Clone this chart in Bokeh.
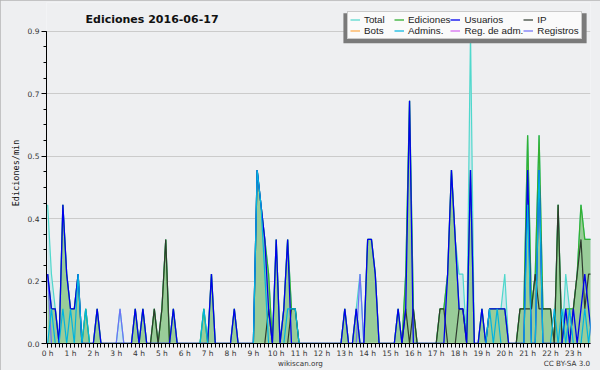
from bokeh.plotting import figure
from bokeh.models import (FixedTicker, Legend, LegendItem, ColumnDataSource, Range1d,
                          Label, BoxAnnotation, LinearAxis)
from bokeh.embed import file_html
from bokeh.resources import INLINE

TITLE = "Ediciones  2016-06-17"
FOOTER_TEXTS = ["wikiscan.org", "CC BY-SA 3.0"]
HOURS = list(range(24))
HOUR_LABELS = [f"{h} h" for h in HOURS]
Y_TICKS = [0, 0.18, 0.36, 0.54, 0.72, 0.9]
Y_LABELS = ["0.0", "0.2", "0.4", "0.5", "0.7", "0.9"]

# Counts per 10-minute slot (144 slots, one row = 2 hours); plotted as edits/min (count / 10)
TOTAL = [4, 2, 1, 0, 4, 2, 1, 1, 2, 0, 1, 0,
         0, 1, 0, 0, 0, 0, 0, 1, 0, 0, 0, 1,
         0, 1, 0, 0, 1, 0, 1, 3, 0, 1, 0, 0,
         0, 0, 0, 0, 0, 1, 0, 2, 0, 0, 0, 0,
         0, 1, 0, 0, 0, 0, 0, 5, 4, 3, 2, 0,
         3, 0, 1, 3, 1, 1, 0, 0, 0, 0, 0, 0,
         0, 0, 0, 0, 0, 0, 1, 0, 0, 1, 2, 0,
         3, 3, 2, 0, 0, 0, 0, 0, 1, 0, 2, 7,
         1, 0, 0, 0, 0, 0, 0, 1, 1, 2, 5, 3,
         2, 2, 0, 9, 0, 0, 1, 0, 1, 1, 1, 1,
         2, 0, 0, 0, 1, 1, 6, 1, 2, 6, 1, 1,
         1, 0, 4, 0, 2, 1, 1, 2, 4, 3, 3, 3]
EDICIONES = [2, 1, 1, 0, 4, 2, 1, 1, 2, 0, 1, 0,
             0, 1, 0, 0, 0, 0, 0, 0, 0, 0, 0, 1,
             0, 1, 0, 0, 1, 0, 1, 3, 0, 1, 0, 0,
             0, 0, 0, 0, 0, 1, 0, 2, 0, 0, 0, 0,
             0, 1, 0, 0, 0, 0, 0, 5, 4, 3, 2, 0,
             3, 0, 1, 3, 1, 1, 0, 0, 0, 0, 0, 0,
             0, 0, 0, 0, 0, 0, 1, 0, 0, 1, 0, 0,
             3, 3, 2, 0, 0, 0, 0, 0, 1, 0, 2, 7,
             1, 0, 0, 0, 0, 0, 0, 1, 1, 2, 5, 3,
             1, 1, 0, 5, 0, 0, 1, 0, 1, 1, 1, 1,
             1, 0, 0, 0, 1, 1, 6, 1, 2, 6, 1, 1,
             1, 0, 4, 0, 1, 1, 1, 2, 4, 3, 3, 3]
USUARIOS = [2, 1, 1, 0, 4, 2, 1, 1, 2, 0, 0, 0,
            0, 1, 0, 0, 0, 0, 0, 0, 0, 0, 0, 1,
            0, 1, 0, 0, 0, 0, 0, 0, 0, 1, 0, 0,
            0, 0, 0, 0, 0, 0, 0, 2, 0, 0, 0, 0,
            0, 1, 0, 0, 0, 0, 0, 5, 4, 3, 1, 0,
            3, 0, 1, 3, 0, 0, 0, 0, 0, 0, 0, 0,
            0, 0, 0, 0, 0, 0, 1, 0, 0, 1, 0, 0,
            3, 3, 2, 0, 0, 0, 0, 0, 1, 0, 1, 7,
            0, 0, 0, 0, 0, 0, 0, 0, 0, 2, 5, 3,
            1, 1, 0, 5, 0, 0, 1, 0, 1, 1, 1, 1,
            1, 0, 0, 0, 0, 0, 5, 0, 0, 5, 0, 0,
            0, 0, 0, 0, 1, 0, 1, 0, 1, 2, 1, 0]
IP = [0, 0, 0, 0, 0, 0, 0, 0, 0, 0, 0, 0,
      0, 0, 0, 0, 0, 0, 0, 0, 0, 0, 0, 0,
      0, 0, 0, 0, 1, 0, 1, 3, 0, 0, 0, 0,
      0, 0, 0, 0, 0, 0, 0, 0, 0, 0, 0, 0,
      0, 0, 0, 0, 0, 0, 0, 0, 0, 0, 1, 0,
      0, 0, 0, 0, 1, 1, 0, 0, 0, 0, 0, 0,
      0, 0, 0, 0, 0, 0, 0, 0, 0, 0, 0, 0,
      0, 0, 0, 0, 0, 0, 0, 0, 0, 0, 1, 0,
      1, 0, 0, 0, 0, 0, 0, 1, 1, 0, 0, 0,
      1, 1, 0, 0, 0, 0, 0, 0, 0, 0, 0, 0,
      0, 0, 0, 0, 1, 1, 1, 1, 2, 1, 1, 1,
      1, 0, 4, 0, 0, 0, 1, 2, 3, 1, 2, 2]
ADMINS = [0, 1, 0, 0, 1, 0, 1, 0, 2, 0, 1, 0,
          0, 0, 0, 0, 0, 0, 0, 0, 0, 0, 0, 0,
          0, 0, 0, 0, 0, 0, 0, 0, 0, 0, 0, 0,
          0, 0, 0, 0, 0, 1, 0, 0, 0, 0, 0, 0,
          0, 0, 0, 0, 0, 0, 0, 5, 4, 2, 0, 0,
          0, 0, 0, 1, 1, 1, 0, 0, 0, 0, 0, 0,
          0, 0, 0, 0, 0, 0, 0, 0, 0, 0, 0, 0,
          0, 0, 0, 0, 0, 0, 0, 0, 0, 0, 0, 0,
          0, 0, 0, 0, 0, 0, 0, 0, 0, 0, 0, 0,
          0, 0, 0, 0, 0, 0, 0, 0, 1, 0, 1, 0,
          0, 0, 0, 0, 0, 0, 4, 0, 0, 5, 0, 0,
          0, 1, 0, 1, 0, 1, 0, 0, 0, 1, 0, 1]
REGISTROS = [2, 0, 0, 0, 0, 0, 0, 0, 0, 0, 0, 0,
             0, 0, 0, 0, 0, 0, 0, 1, 0, 0, 0, 0,
             0, 0, 0, 0, 0, 0, 0, 0, 0, 0, 0, 0,
             0, 0, 0, 0, 0, 0, 0, 0, 0, 0, 0, 0,
             0, 0, 0, 0, 0, 0, 0, 0, 0, 0, 0, 0,
             0, 0, 0, 0, 0, 0, 0, 0, 0, 0, 0, 0,
             0, 0, 0, 0, 0, 0, 0, 0, 0, 0, 2, 0,
             0, 0, 0, 0, 0, 0, 0, 0, 0, 0, 0, 0,
             0, 0, 0, 0, 0, 0, 0, 0, 0, 0, 0, 0,
             0, 0, 0, 0, 0, 0, 0, 0, 0, 0, 0, 0,
             0, 0, 0, 0, 0, 0, 0, 0, 0, 0, 0, 0,
             0, 0, 0, 0, 0, 0, 0, 0, 0, 0, 0, 0]
BOTS = [0] * 144
REG_ADM = [0] * 144

slots = list(range(len(EDICIONES)))
src = ColumnDataSource(dict(
    x=[s / 6 for s in slots],
    total=[v / 10 for v in TOTAL],
    ed=[v / 10 for v in EDICIONES],
    us=[v / 10 for v in USUARIOS],
    ip=[v / 10 for v in IP],
    adm=[v / 10 for v in ADMINS],
    regs=[v / 10 for v in REGISTROS],
    bots=[v / 10 for v in BOTS],
    regadm=[v / 10 for v in REG_ADM],
))

BG = "#eeeff1"
# frame reaches the top of the canvas so that title and legend are drawn inside it;
# the value axis itself is bounded to 0..0.9
p = figure(width=600, height=370, output_backend="svg", toolbar_location=None, title=None,
           x_range=Range1d(-0.05, 23.75), y_range=Range1d(0, 0.983),
           min_border_left=46, min_border_right=10, min_border_top=2, min_border_bottom=26)
p.background_fill_color = BG
p.border_fill_color = BG
p.outline_line_color = None
p.styles = {"outline": "2px solid #b4b4b4", "outline-offset": "-2px"}

p.xgrid.visible = False
p.ygrid.grid_line_color = "#cbcbcb"
p.ygrid.grid_line_width = 1

ax = p.xaxis[0]
ax.ticker = FixedTicker(ticks=HOURS, minor_ticks=[k / 6 for k in range(144)])
ax.major_label_overrides = dict(zip(HOURS, HOUR_LABELS))
ay = p.yaxis[0]
ay.ticker = FixedTicker(ticks=Y_TICKS, minor_ticks=[k * 0.045 for k in range(21)])
ay.major_label_overrides = dict(zip(Y_TICKS, Y_LABELS))
ay.bounds = (0, 0.9)
for a in (ax, ay):
    a.axis_line_color = "#000000"
    a.major_tick_line_color = "#000000"
    a.minor_tick_line_color = "#000000"
    a.major_tick_in = 0
    a.minor_tick_in = 0
    a.major_label_text_font = "DejaVu Sans"
    a.major_label_text_font_size = "7.5px"
    a.major_label_text_color = "#333333"
    a.major_label_standoff = 2
ax.major_tick_out = 4
ax.minor_tick_out = 4
ax.major_label_standoff = 1
ay.major_tick_out = 5
ay.minor_tick_out = 3
ay.axis_label = "Ediciones/min"
ay.axis_label_text_font = "DejaVu Sans Mono"
ay.axis_label_text_font_size = "8.5px"
ay.axis_label_text_font_style = "normal"
ay.axis_label_text_color = "#111111"
ay.axis_label_standoff = 4

# footer line: a bare axis below the hour axis carrying the two footer texts
foot = LinearAxis(ticker=FixedTicker(ticks=[11.06, 22.72]),
                  major_label_overrides=dict(zip([11.06, 22.72], FOOTER_TEXTS)))
foot.axis_line_color = None
foot.major_tick_line_color = None
foot.minor_tick_line_color = None
foot.major_tick_out = 0
foot.major_tick_in = 0
foot.major_label_standoff = -2
foot.major_label_text_font = "DejaVu Sans"
foot.major_label_text_font_size = "7.2px"
foot.major_label_text_color = "#333333"
p.add_layout(foot, "below")

r_bots = p.line("x", "bots", source=src, line_color="#ff9922", line_width=1)
r_regadm = p.line("x", "regadm", source=src, line_color="#cc44ee", line_width=1)
p.varea(x="x", y1=0, y2="total", source=src, fill_color="#cfe6ec")
r_tot = p.line("x", "total", source=src, line_color="#4fd8cc", line_width=1.2)
p.varea(x="x", y1=0, y2="ed", source=src, fill_color="#99cc99")
r_ed = p.line("x", "ed", source=src, line_color="#33b033", line_width=1.3)
r_regs = p.line("x", "regs", source=src, line_color="#6f6ff8", line_width=1.2)
r_ip = p.line("x", "ip", source=src, line_color="#2e3a2e", line_width=1.2)
r_us = p.line("x", "us", source=src, line_color="#0000ee", line_width=1.3)
r_adm = p.line("x", "adm", source=src, line_color="#00b4e0", line_width=1.2)

p.add_layout(Label(x=39, y=324, x_units="screen", y_units="screen", text=TITLE,
                   text_font="DejaVu Sans", text_font_style="bold", text_font_size="11px",
                   text_color="#111111", text_align="left", text_baseline="middle"))

# legend drop shadow
p.add_layout(BoxAnnotation(left=12.94, right=23.58, bottom=0.8654, top=0.9517,
                           fill_color="#7a7a7a", fill_alpha=1, line_color=None))

LEGEND_LABELS = ["Total", "Ediciones", "Usuarios", "IP",
                 "Bots", "Admins.", "Reg. de adm.", "Registros"]
LEGEND_RENDERERS = [r_tot, r_ed, r_us, r_ip, r_bots, r_adm, r_regadm, r_regs]
lg = Legend(items=[LegendItem(label=l, renderers=[r])
                   for l, r in zip(LEGEND_LABELS, LEGEND_RENDERERS)],
            location=(301, 304), orientation="horizontal", ncols=4)
lg.label_text_font = "Liberation Sans"
lg.label_text_font_size = "9.8px"
lg.label_text_color = "#222222"
lg.glyph_width = 10
lg.glyph_height = 9
lg.label_height = 9
lg.label_width = 30
lg.label_standoff = 4
lg.spacing = 0
lg.padding = 2
lg.margin = 0
lg.background_fill_color = "#fafafa"
lg.background_fill_alpha = 1
lg.border_line_color = "#9a9a9a"
lg.border_line_width = 1
p.add_layout(lg)

open("out.html", "w").write(file_html(p, INLINE))
